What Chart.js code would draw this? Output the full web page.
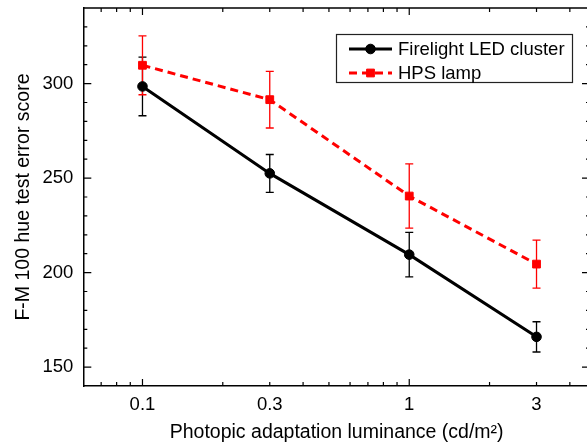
<!DOCTYPE html>
<html>
<head>
<meta charset="utf-8">
<script src="https://cdn.jsdelivr.net/npm/chart.js@4.4.1/dist/chart.umd.min.js"></script>
<style>
    html, body { margin: 0; padding: 0; background: #fff; overflow: hidden; }
    canvas { display: block; }
</style>
</head>
<body>
<canvas id="chart" width="592" height="444"></canvas>
<script>
// photopic adaptation luminance (cd/m2)
const luminance = [0.1, 0.3, 1, 3];
const xTickLabels = ['0.1', '0.3', '1', '3'];

// F-M 100 hue test error score, mean and error bar half-length
const ledScores = [298.5, 252.5, 209.5, 166];
const ledErrors = [15.5, 10, 11.8, 8];
const hpsScores = [309.7, 291.5, 240.5, 204.5];
const hpsErrors = [15.6, 15, 17, 12.7];

const yTickValues = [150, 200, 250, 300];

// tick marks of the log axis (Origin style)
const xMajorMarks = [0.1, 1];
const xMinorMarks = [0.07, 0.08, 0.09, 0.2, 0.3, 0.4, 0.5, 0.6, 0.7, 0.8, 0.9, 2, 3, 4];
const yMajorMarks = [150, 200, 250, 300];
const yMinorMarks = [160, 170, 180, 190, 210, 220, 230, 240, 260, 270, 280, 290, 310, 320, 330];

const FONT = "'Liberation Sans', Arial, Helvetica, sans-serif";

// ticks pointing inward on all four sides + top/right frame
const frameTicks = {
    id: 'frameTicks',
    afterDraw(chart) {
        const { ctx, chartArea: a, scales: { x, y } } = chart;
        ctx.save();
        ctx.strokeStyle = '#000';
        ctx.lineWidth = 1.5;
        ctx.beginPath();
        ctx.moveTo(a.left, a.top);
        ctx.lineTo(a.right, a.top);
        ctx.lineTo(a.right, a.bottom);
        ctx.stroke();

        ctx.lineWidth = 1.2;
        const xMark = (v, len) => {
            const px = x.getPixelForValue(v);
            ctx.moveTo(px, a.bottom);
            ctx.lineTo(px, a.bottom - len);
            ctx.moveTo(px, a.top);
            ctx.lineTo(px, a.top + len);
        };
        const yMark = (v, len) => {
            const py = y.getPixelForValue(v);
            ctx.moveTo(a.left, py);
            ctx.lineTo(a.left + len, py);
            ctx.moveTo(a.right, py);
            ctx.lineTo(a.right - len, py);
        };
        ctx.beginPath();
        xMajorMarks.forEach(v => xMark(v, 7));
        xMinorMarks.forEach(v => xMark(v, 4));
        yMajorMarks.forEach(v => yMark(v, 8));
        yMinorMarks.forEach(v => yMark(v, 4));
        ctx.stroke();
        ctx.restore();
    }
};

// vertical error bars with caps
const errorBars = {
    id: 'errorBars',
    beforeDatasetsDraw(chart) {
        const { ctx, scales: { y } } = chart;
        ctx.save();
        chart.data.datasets.forEach((ds, i) => {
            const meta = chart.getDatasetMeta(i);
            ctx.strokeStyle = ds.borderColor;
            ctx.lineWidth = 1.3;
            ctx.setLineDash([]);
            ds.data.forEach((pt, j) => {
                const err = ds.errors[j];
                const px = meta.data[j].x;
                const top = y.getPixelForValue(pt.y + err);
                const bot = y.getPixelForValue(pt.y - err);
                ctx.beginPath();
                ctx.moveTo(px, top);
                ctx.lineTo(px, bot);
                ctx.moveTo(px - 4, top);
                ctx.lineTo(px + 4, top);
                ctx.moveTo(px - 4, bot);
                ctx.lineTo(px + 4, bot);
                ctx.stroke();
            });
        });
        ctx.restore();
    }
};

// boxed legend in the upper right
const boxLegend = {
    id: 'boxLegend',
    afterDraw(chart) {
        const { ctx } = chart;
        const left = 336, top = 34, w = 236, h = 48;
        ctx.save();
        ctx.fillStyle = '#fff';
        ctx.fillRect(left, top, w, h);
        ctx.strokeStyle = '#222';
        ctx.lineWidth = 1.2;
        ctx.strokeRect(left + 0.5, top + 0.5, w, h);
        chart.data.datasets.forEach((ds, i) => {
            const cy = top + 15 + i * 24;
            ctx.strokeStyle = ds.borderColor;
            ctx.lineWidth = ds.borderWidth;
            ctx.setLineDash(ds.borderDash || []);
            ctx.beginPath();
            ctx.moveTo(349, cy);
            ctx.lineTo(392, cy);
            ctx.stroke();
            ctx.setLineDash([]);
            ctx.fillStyle = ds.backgroundColor;
            ctx.lineWidth = 1;
            Chart.helpers.drawPoint(ctx, {
                pointStyle: ds.pointStyle,
                radius: ds.pointRadius,
                borderWidth: 1
            }, 370.5, cy);
            ctx.fillStyle = '#000';
            ctx.font = `18.5px ${FONT}`;
            ctx.textBaseline = 'middle';
            ctx.fillText(ds.label, 398, cy + 1);
        });
        ctx.restore();
    }
};

const toPoints = (vals) => vals.map((v, i) => ({ x: luminance[i], y: v }));

new Chart(document.getElementById('chart'), {
    type: 'line',
    data: {
        datasets: [
            {
                label: 'Firelight LED cluster',
                data: toPoints(ledScores),
                errors: ledErrors,
                borderColor: '#000',
                backgroundColor: '#000',
                borderWidth: 3,
                pointStyle: 'circle',
                pointRadius: 4.8,
                pointBorderWidth: 1,
                tension: 0
            },
            {
                label: 'HPS lamp',
                data: toPoints(hpsScores),
                errors: hpsErrors,
                borderColor: '#ff0000',
                backgroundColor: '#ff0000',
                borderWidth: 3,
                borderDash: [8, 5],
                pointStyle: 'rect',
                pointRadius: 5.5,
                pointBorderWidth: 1,
                tension: 0
            }
        ]
    },
    options: {
        responsive: false,
        animation: false,
        layout: { autoPadding: false, padding: { top: 8, right: 2, left: 0, bottom: 0 } },
        plugins: {
            legend: { display: false },
            tooltip: { enabled: false }
        },
        scales: {
            x: {
                type: 'logarithmic',
                position: 'bottom',
                min: 0.06,
                max: 4.76,
                afterBuildTicks: (scale) => {
                    scale.ticks = luminance.map(v => ({ value: v }));
                },
                afterFit: (scale) => {
                    scale.height = 58;
                    scale.paddingLeft = 0;
                    scale.paddingRight = 0;
                },
                ticks: {
                    autoSkip: false,
                    maxRotation: 0,
                    padding: 8,
                    color: '#000',
                    font: { family: FONT, size: 18.5 },
                    callback: (value, index) => xTickLabels[index]
                },
                grid: { display: false, drawTicks: false },
                border: { display: true, color: '#000', width: 1.5 },
                title: {
                    display: true,
                    text: 'Photopic adaptation luminance (cd/m²)',
                    color: '#000',
                    font: { family: FONT, size: 19.5 },
                    padding: { top: 0, bottom: 0 }
                }
            },
            y: {
                min: 140,
                max: 340,
                afterBuildTicks: (scale) => {
                    scale.ticks = yTickValues.map(v => ({ value: v }));
                },
                afterFit: (scale) => {
                    scale.width = 83.3;
                    scale.paddingTop = 0;
                    scale.paddingBottom = 0;
                },
                ticks: {
                    padding: 10,
                    color: '#000',
                    font: { family: FONT, size: 18.5 }
                },
                grid: { display: false, drawTicks: false },
                border: { display: true, color: '#000', width: 1.5 },
                title: {
                    display: true,
                    text: 'F-M 100 hue test error score',
                    color: '#000',
                    font: { family: FONT, size: 19.5 },
                    padding: { top: 12, bottom: 0 }
                }
            }
        }
    },
    plugins: [errorBars, frameTicks, boxLegend]
});
</script>
</body>
</html>
